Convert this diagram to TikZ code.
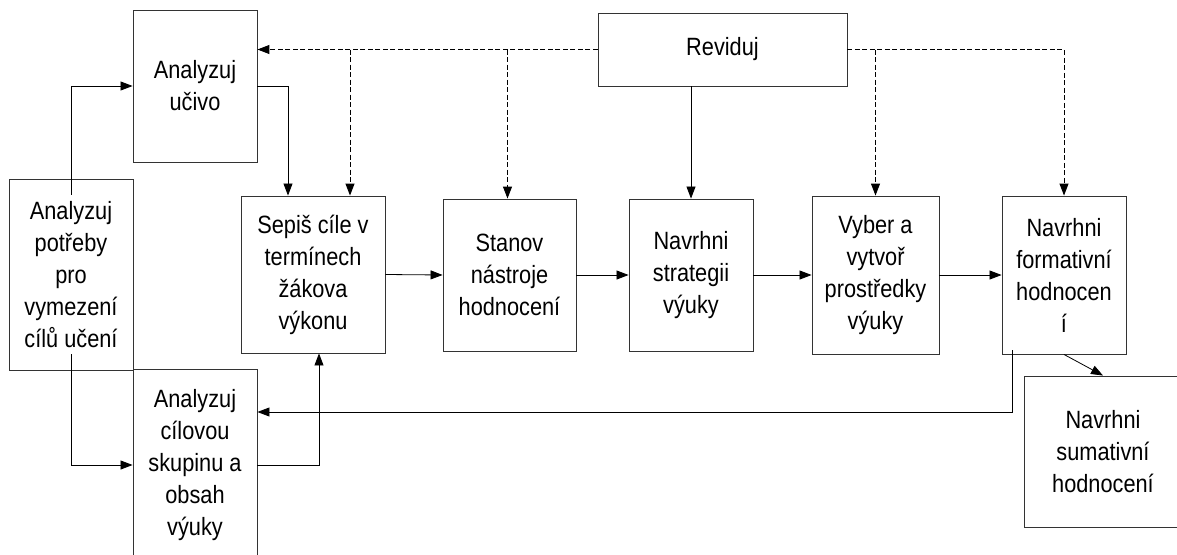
\documentclass[tikz,border=0pt]{standalone}
\usepackage{fontspec}
\setmainfont{Liberation Sans}[FakeStretch=0.87]
\usetikzlibrary{arrows.meta}

\begin{document}
\begin{tikzpicture}[x=1pt,y=-1pt,
  box/.style={draw=black!80,line width=0.9pt,align=center,inner sep=0pt,
    font=\fontsize{25}{32}\selectfont},
  arr/.style={-{Triangle[length=12pt,width=9pt]},line width=0.8pt},
  dsh/.style={arr,line width=1pt,dash pattern=on 5pt off 2.5pt}]
  \useasboundingbox (0,0) rectangle (1177,554);
  % left column
  \node[box,minimum width=124pt,minimum height=152pt] at(195,86)(ucivo){Analyzuj\\učivo};
  \node[box,minimum width=124pt,minimum height=191pt] at(71,274.5)(potreby){Analyzuj\\potřeby\\pro\\vymezení\\cílů učení};
  \node[box,minimum width=124pt,minimum height=192pt] at(195,465)(cilova){Analyzuj\\cílovou\\skupinu a\\obsah\\výuky};
  % middle row
  \node[box,minimum width=144pt,minimum height=157pt] at(313,274.5)(sepis){Sepiš cíle v\\termínech\\žákova\\výkonu};
  \node[box,minimum width=133pt,minimum height=152pt] at(509.5,275)(stanov){Stanov\\nástroje\\hodnocení};
  \node[box,minimum width=124pt,minimum height=152pt] at(691,275)(strategie){Navrhni\\strategii\\výuky};
  \node[box,minimum width=127pt,minimum height=158pt] at(875.5,275)(vyber){Vyber a\\vytvoř\\prostředky\\výuky};
  \node[box,minimum width=124pt,minimum height=158pt] at(1064,275)(formativni){Navrhni\\formativní\\hodnocen\\í};
  % top and bottom right
  \node[box,minimum width=249pt,minimum height=73pt] at(722.5,49.5)(reviduj){Reviduj};
  \node[box,minimum width=158pt,minimum height=151pt] at(1103,451.5)(sumativni){Navrhni\\sumativní\\hodnocení};
  % arrows from the left column
  \draw[arr] ([yshift=-16pt]potreby.north) |- (ucivo.west);
  \draw[arr] ([yshift=16pt]potreby.south) |- (cilova.west);
  \draw[arr] (ucivo.east) -| ([xshift=-25pt]sepis.north);
  \draw[arr] (cilova.east) -| ([xshift=6pt]sepis.south);
  % main chain
  \draw[arr] (sepis.east) -- (stanov.west);
  \draw[arr] (stanov.east) -- (strategie.west);
  \draw[arr] (strategie.east) -- (vyber.west);
  \draw[arr] (vyber.east) -- (formativni.west);
  \draw[arr] (formativni.south) -- (sumativni.north);
  \draw[arr] ([xshift=-52pt,yshift=4pt]formativni.south) |- ([yshift=53pt]cilova.east);
  % revision
  \draw[arr] (strategie.north |- reviduj.south) -- (strategie.north);
  \draw[dsh] (reviduj.west) -- (reviduj.west -| ucivo.east);
  \draw[dsh] ([xshift=37pt]sepis.north |- reviduj.west) -- ([xshift=37pt]sepis.north);
  \draw[dsh] ([xshift=-2pt]stanov.north |- reviduj.west) -- ([xshift=-2pt]stanov.north);
  \draw[dsh] (reviduj.east) -| (formativni.north);
  \draw[dsh] (vyber.north |- reviduj.east) -- (vyber.north);
\end{tikzpicture}
\end{document}
